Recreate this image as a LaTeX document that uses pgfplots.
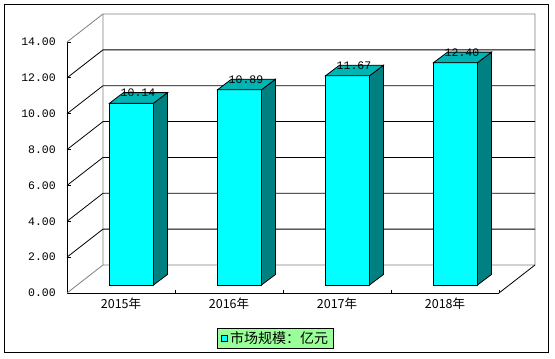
\documentclass[border=0pt]{standalone}
\usepackage{pgfplots}
\usepackage{pgfplotstable}
\pgfplotsset{compat=1.18}
\usepackage{fontspec}
\newfontfamily\numfont{Liberation Mono}
\newfontfamily\cjk{Noto Sans CJK SC}
\definecolor{barfront}{HTML}{00FFFF}
\definecolor{bartop}{HTML}{00B4B4}
\definecolor{barside}{HTML}{008080}
\definecolor{wallgray}{HTML}{808080}
\definecolor{legendgreen}{HTML}{99FF99}

\pgfplotstableread{
x v
0 10.14
1 10.89
2 11.67
3 12.40
}\data

% depth of the whole box (data units)
\def\DX{0.3333}
\def\DY{1.5616}
% front face offset of bars and their depth
\def\OX{0.0972}
\def\OY{0.446}
\def\HW{0.2037}
\def\BX{0.13}
\def\BY{0.59}

\newcommand\threedbar[1]{%
  \pgfplotstablegetelem{#1}{v}\of\data
  \let\val\pgfplotsretval
  \pgfmathsetmacro\xl{#1+0.5+\OX-\HW}%
  \pgfmathsetmacro\xr{#1+0.5+\OX+\HW}%
  \pgfmathsetmacro\xrb{\xr+\BX}%
  \pgfmathsetmacro\xlb{\xl+\BX}%
  \pgfmathsetmacro\yb{\OY}%
  \pgfmathsetmacro\yt{\val+\OY}%
  \pgfmathsetmacro\ybb{\OY+\BY}%
  \pgfmathsetmacro\ytb{\val+\OY+\BY}%
  \edef\doit{%
    \noexpand\addplot[fill=barfront,draw=black,line width=0.8bp,forget plot,mark=none]
      coordinates {(\xl,\yb) (\xr,\yb) (\xr,\yt) (\xl,\yt)} -- cycle;
    \noexpand\addplot[fill=barside,draw=black,line width=0.8bp,forget plot,mark=none]
      coordinates {(\xr,\yb) (\xrb,\ybb) (\xrb,\ytb) (\xr,\yt)} -- cycle;
    \noexpand\addplot[fill=bartop,draw=black,line width=0.8bp,forget plot,mark=none]
      coordinates {(\xl,\yt) (\xr,\yt) (\xrb,\ytb) (\xlb,\ytb)} -- cycle;
  }\doit
}

\begin{document}
\begin{tikzpicture}
\begin{axis}[
  scale only axis, width=432bp, height=251bp,
  xmin=0, xmax=4, ymin=0, ymax=14,
  clip=false,
  axis x line*=bottom, axis y line*=left,
  x axis line style={-}, y axis line style={-},
  axis line style={black, line width=0.8bp},
  ytick={0,2,...,14},
  yticklabel={\pgfmathprintnumber[fixed,fixed zerofill,precision=2,assume math mode=true]{\tick}},
  yticklabel style={font=\numfont\fontsize{11.5bp}{12bp}\selectfont, anchor=east, inner sep=0pt, xshift=-11bp},
  xtick={0,...,4},
  x tick label as interval,
  xticklabels={2015年,2016年,2017年,2018年},
  xticklabel style={font=\cjk\fontsize{12.5bp}{13bp}\selectfont, anchor=north, inner sep=0pt, yshift=-5bp},
  tick align=inside, major tick length=3.5bp,
  tick style={black, line width=0.8bp},
  legend style={at={(0.4826,-0.1813)}, anchor=center, draw=black, fill=legendgreen,
    line width=0.8bp, font=\cjk\fontsize{14bp}{15bp}\selectfont, inner xsep=3.5bp, inner ysep=1bp},
]
% walls
\draw[wallgray, line width=0.8bp] (axis cs:0,0) -- (axis cs:\DX,\DY) -- (axis cs:\DX,14+\DY)
  -- (axis cs:4+\DX,14+\DY) -- (axis cs:4+\DX,\DY) -- (axis cs:\DX,\DY);
\draw[wallgray, line width=0.8bp] (axis cs:0,14) -- (axis cs:\DX,14+\DY);
\draw[black, line width=0.8bp] (axis cs:4,0) -- (axis cs:4+\DX,\DY);
\pgfplotsinvokeforeach{2,4,...,12}{
  \draw[black, line width=0.8bp] (axis cs:0,#1) -- (axis cs:\DX,#1+\DY) -- (axis cs:4+\DX,#1+\DY);
}
% bars
\threedbar{0}
\threedbar{1}
\threedbar{2}
\threedbar{3}
% value labels
\addplot[draw=none, mark=none, forget plot,
  nodes near coords={\pgfmathprintnumber[fixed,fixed zerofill,precision=2,assume math mode=true]{\pgfplotspointmeta}},
  every node near coord/.style={anchor=center, inner sep=0pt, font=\numfont\fontsize{11.5bp}{12bp}\selectfont},
  point meta=explicit]
  table[x expr=\thisrow{x}+0.5+\OX+0.06, y expr=\thisrow{v}+\OY+0.58, meta=v] {\data};
\addlegendimage{legend image code/.code={\draw[fill=barfront,draw=black,line width=0.8bp] (0bp,-3bp) rectangle (6.5bp,3.5bp);}}
\addlegendentry{市场规模：亿元}
\end{axis}
\draw[black, line width=0.8bp] (-63bp,-59bp) rectangle (481bp,289bp);
\pgfresetboundingbox
\useasboundingbox (-67bp,-66bp) rectangle (488bp,293bp);
\end{tikzpicture}
\end{document}
